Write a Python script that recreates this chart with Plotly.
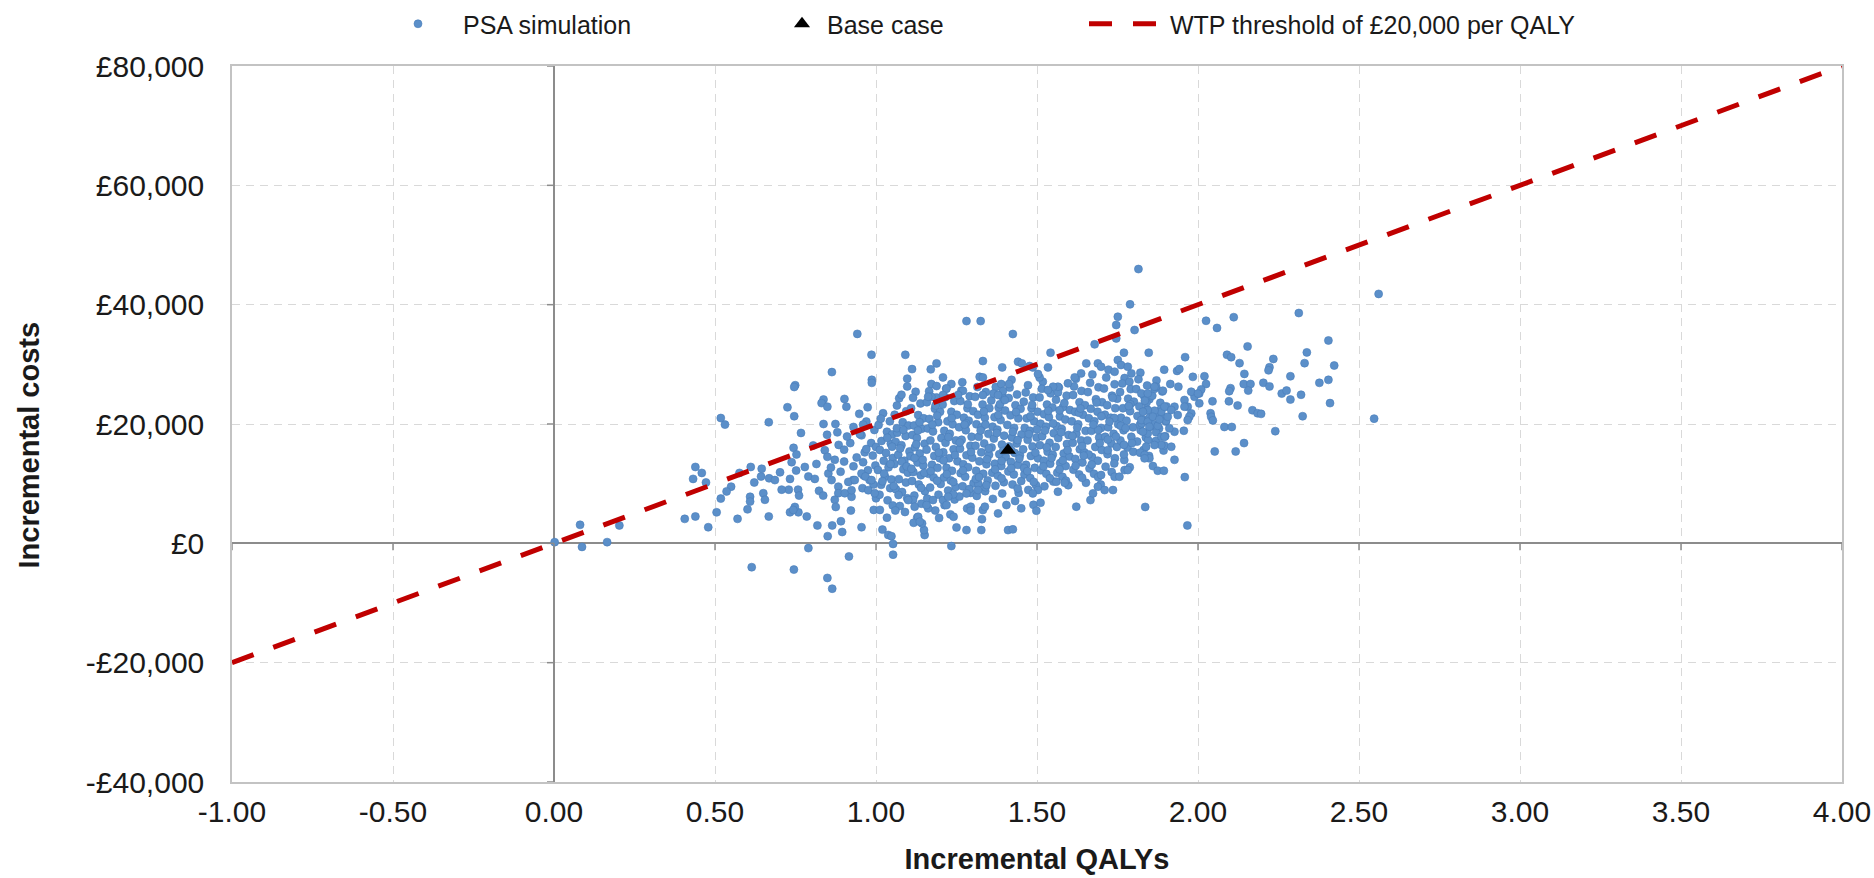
import plotly.graph_objects as go

# ---------------------------------------------------------------
# Cost-effectiveness plane: PSA iterations, base case, WTP line
# ---------------------------------------------------------------

# PSA iterations (incremental QALYs, incremental costs in GBP)
psa_points = [
    # dense core of the cloud
    (0.970, 20400), (0.995, 19000), (0.955, 18100), (0.985, 16800), (1.000, 16150), (0.965, 15250), (0.990, 14700),
    (0.960, 13600), (0.998, 13050), (0.975, 12250), (0.962, 11350), (0.992, 9850), (0.958, 9250), (1.000, 7550),
    (0.980, 10600),
    (1.022, 21800), (1.043, 20450), (1.008, 19850), (1.034, 18700), (1.050, 18250), (1.017, 17150), (1.046, 16700),
    (1.012, 15650), (1.031, 15150), (1.052, 14300), (1.024, 13850), (1.039, 12750), (1.006, 12300), (1.028, 11150),
    (1.048, 10700), (1.016, 9800), (1.044, 9250), (1.011, 8150), (1.036, 7200), (1.052, 6350), (1.020, 10400),
    (1.072, 24300), (1.094, 22150), (1.058, 21550), (1.083, 20300), (1.101, 19750), (1.066, 18550), (1.092, 18000),
    (1.061, 17000), (1.079, 16450), (1.104, 15400), (1.069, 14850), (1.088, 13850), (1.057, 13300), (1.085, 12400),
    (1.099, 11850), (1.071, 10750), (1.093, 10200), (1.062, 9050), (1.081, 8600), (1.097, 7550), (1.074, 6250),
    (1.090, 5250), (1.065, 19300),
    (1.123, 25400), (1.138, 23450), (1.109, 22650), (1.131, 21500), (1.148, 20950), (1.118, 19750), (1.142, 19200),
    (1.113, 18150), (1.127, 17650), (1.151, 16700), (1.121, 16100), (1.136, 15050), (1.107, 14600), (1.129, 13550),
    (1.147, 13050), (1.116, 11950), (1.139, 11400), (1.112, 10450), (1.133, 9850), (1.152, 8750), (1.119, 8000),
    (1.141, 6650), (1.128, 4350), (1.117, 3450),
    (1.172, 26700), (1.188, 24450), (1.158, 23650), (1.183, 22550), (1.199, 22050), (1.166, 20850), (1.193, 20300),
    (1.161, 19250), (1.177, 18750), (1.203, 17650), (1.169, 17250), (1.186, 16150), (1.157, 15700), (1.181, 14650),
    (1.198, 14250), (1.174, 13150), (1.191, 12650), (1.163, 11650), (1.179, 11050), (1.201, 9950), (1.168, 9350),
    (1.194, 8150), (1.159, 7500), (1.184, 5500), (1.196, 4250),
    (1.218, 25900), (1.243, 23850), (1.207, 23250), (1.234, 22050), (1.251, 21550), (1.222, 20450), (1.238, 19950),
    (1.212, 18850), (1.229, 18350), (1.248, 17250), (1.216, 16850), (1.241, 15750), (1.209, 15250), (1.227, 14250),
    (1.253, 13750), (1.219, 12650), (1.236, 12150), (1.211, 11050), (1.232, 10550), (1.247, 9450), (1.224, 8850),
    (1.244, 7350), (1.213, 6400), (1.231, 4850),
    (1.268, 27000), (1.291, 24650), (1.262, 23850), (1.284, 22650), (1.302, 22150), (1.273, 21050), (1.288, 20550),
    (1.258, 19450), (1.279, 18950), (1.297, 17850), (1.266, 17350), (1.293, 16350), (1.261, 15850), (1.281, 14750),
    (1.299, 14350), (1.271, 13250), (1.286, 12750), (1.263, 11750), (1.277, 11150), (1.303, 10050), (1.269, 9550),
    (1.294, 8450), (1.259, 7850), (1.283, 5850),
    (1.322, 27900), (1.341, 25350), (1.308, 24550), (1.331, 23250), (1.352, 22650), (1.317, 21550), (1.338, 21050),
    (1.312, 19950), (1.328, 19450), (1.349, 18350), (1.319, 17850), (1.336, 16750), (1.309, 16350), (1.327, 15250),
    (1.351, 14850), (1.321, 13750), (1.343, 13250), (1.311, 12150), (1.333, 11650), (1.347, 10550), (1.318, 9950),
    (1.339, 8750), (1.313, 7950), (1.329, 4050),
    (1.372, 26200), (1.393, 24550), (1.358, 23950), (1.381, 22750), (1.401, 22250), (1.368, 21150), (1.387, 20650),
    (1.362, 19550), (1.377, 19050), (1.398, 18050), (1.366, 17550), (1.391, 16550), (1.359, 16050), (1.383, 14950),
    (1.403, 14450), (1.369, 13350), (1.389, 12950), (1.361, 11850), (1.378, 11350), (1.397, 10250), (1.371, 9650),
    (1.392, 8350), (1.363, 7450),
    (1.421, 27400), (1.438, 24950), (1.412, 24350), (1.433, 23150), (1.449, 22550), (1.418, 21450), (1.442, 20950),
    (1.408, 19850), (1.429, 19350), (1.452, 18250), (1.422, 17750), (1.437, 16750), (1.413, 16250), (1.431, 15150),
    (1.447, 14750), (1.419, 13650), (1.441, 13150), (1.411, 12050), (1.428, 11550), (1.451, 10450), (1.424, 9850),
    (1.443, 8450), (1.432, 7100),
    (1.472, 26500), (1.488, 24450), (1.459, 23750), (1.483, 22650), (1.502, 22050), (1.468, 20950), (1.491, 20450),
    (1.462, 19350), (1.478, 18850), (1.499, 17750), (1.471, 17350), (1.486, 16250), (1.457, 15750), (1.481, 14650),
    (1.503, 14250), (1.466, 13150), (1.493, 12650), (1.461, 11550), (1.479, 10950), (1.497, 9750), (1.473, 8950),
    (1.489, 6450),
    (1.518, 27100), (1.542, 25150), (1.508, 24450), (1.531, 23250), (1.548, 22750), (1.522, 21650), (1.537, 21150),
    (1.511, 20050), (1.528, 19550), (1.552, 18450), (1.516, 17950), (1.539, 16850), (1.509, 16450), (1.533, 15350),
    (1.549, 14850), (1.521, 13850), (1.541, 13350), (1.512, 12250), (1.529, 11650), (1.551, 10350), (1.523, 9550),
    (1.568, 26100), (1.592, 24750), (1.559, 24050), (1.581, 22850), (1.602, 22350), (1.571, 21250), (1.588, 20750),
    (1.561, 19650), (1.577, 19150), (1.598, 18150), (1.566, 17650), (1.593, 16650), (1.558, 16150), (1.583, 15050),
    (1.601, 14550), (1.572, 13450), (1.589, 12950), (1.563, 11850), (1.579, 11150), (1.597, 9750),
    (1.621, 27600), (1.638, 25550), (1.612, 24850), (1.632, 23650), (1.649, 23150), (1.618, 22050), (1.643, 21550),
    (1.608, 20450), (1.628, 19950), (1.651, 18850), (1.622, 18350), (1.637, 17250), (1.611, 16850), (1.633, 15750),
    (1.647, 15250), (1.619, 14150), (1.641, 13550), (1.613, 12350), (1.631, 11550), (1.652, 10150),
    (1.672, 28300), (1.691, 26150), (1.658, 25350), (1.683, 24150), (1.702, 23650), (1.667, 22550), (1.688, 22050),
    (1.661, 20950), (1.678, 20450), (1.699, 19350), (1.669, 18850), (1.693, 17750), (1.657, 17250), (1.681, 16150),
    (1.701, 15650), (1.671, 14450), (1.689, 13850), (1.663, 12550), (1.677, 11650), (1.698, 9850),
    (1.722, 29100), (1.741, 26650), (1.708, 25950), (1.733, 24750), (1.749, 24250), (1.718, 23150), (1.743, 22650),
    (1.711, 21550), (1.729, 21050), (1.752, 19950), (1.721, 19450), (1.738, 18350), (1.712, 17850), (1.731, 16750),
    (1.748, 16150), (1.719, 14950), (1.742, 14250), (1.713, 12850), (1.732, 11950),
    (1.772, 27700), (1.791, 25850), (1.758, 25350), (1.783, 24250), (1.801, 23750), (1.767, 22650), (1.789, 22150),
    (1.761, 21050), (1.778, 20550), (1.798, 19450), (1.769, 18950), (1.793, 17850), (1.759, 17250), (1.781, 16050),
    (1.799, 15350), (1.771, 13950), (1.788, 12750),
    (1.821, 28600), (1.842, 26450), (1.808, 25850), (1.833, 24650), (1.849, 24150), (1.818, 22950), (1.841, 22450),
    (1.812, 21350), (1.829, 20750), (1.852, 19550), (1.822, 18950), (1.838, 17750), (1.811, 17050), (1.831, 15650),
    (1.848, 14650),
    (1.871, 27300), (1.889, 25450), (1.858, 24750), (1.883, 23550), (1.902, 22950), (1.868, 21750), (1.891, 21150),
    (1.861, 19950), (1.879, 19250), (1.898, 17950), (1.869, 17150), (1.893, 15550),
    (1.05, 16200), (1.08, 13700), (1.13, 18900), (1.15, 11800), (1.19, 21400), (1.21, 13900), (1.26, 16900),
    (1.28, 20100), (1.31, 10800), (1.35, 15900), (1.38, 21500), (1.39, 13800), (1.44, 17300), (1.46, 12600),
    (1.48, 21300), (1.53, 16100), (1.55, 20100), (1.58, 13900), (1.61, 18000), (1.63, 21900), (1.66, 14900),
    (1.69, 19000), (1.72, 17400), (1.74, 21000), (1.77, 16500), (1.79, 23300), (1.82, 19900), (1.84, 23600),
    (1.87, 18600), (1.90, 20400), (1.12, 14300), (1.24, 10300), (1.34, 19900), (1.42, 15600), (1.50, 19100),
    (1.57, 22300), (1.64, 16300), (1.70, 21300), (1.76, 19700), (1.85, 21100),
    (1.015, 20900), (1.035, 17700), (1.045, 13300), (1.025, 11700), (1.055, 9600),
    (1.065, 23100), (1.085, 19000), (1.075, 15900), (1.095, 12900), (1.070, 8100),
    (1.115, 24400), (1.135, 20300), (1.125, 16600), (1.145, 14000), (1.110, 12500), (1.140, 9300),
    (1.165, 25500), (1.185, 23100), (1.175, 19900), (1.195, 15200), (1.170, 12100), (1.190, 10500),
    (1.215, 24500), (1.235, 21000), (1.225, 17800), (1.245, 14800), (1.220, 11600), (1.240, 8200),
    (1.265, 25600), (1.285, 23300), (1.275, 19900), (1.295, 15300), (1.270, 12200), (1.290, 9100),
    (1.315, 26200), (1.335, 22100), (1.325, 18900), (1.345, 14100), (1.320, 11100), (1.340, 9400),
    (1.365, 25100), (1.385, 23300), (1.375, 18500), (1.395, 15500), (1.370, 12400), (1.390, 10900),
    (1.415, 26100), (1.435, 22000), (1.425, 18700), (1.445, 14200), (1.420, 12600), (1.440, 9200),
    (1.465, 25300), (1.485, 23200), (1.475, 18300), (1.495, 15200), (1.470, 12100), (1.490, 10300),
    (1.515, 25900), (1.535, 22200), (1.525, 18900), (1.545, 14300), (1.520, 12900), (1.540, 10900),
    (1.565, 25300), (1.585, 23500), (1.575, 18600), (1.595, 15600), (1.570, 12400), (1.590, 10500),
    (1.615, 26300), (1.635, 22600), (1.625, 19400), (1.645, 14700), (1.620, 13000), (1.640, 11000),
    (1.665, 26900), (1.685, 23600), (1.675, 19900), (1.695, 16800), (1.670, 13200), (1.690, 11100),
    (1.715, 27800), (1.735, 24400), (1.725, 20400), (1.745, 17900), (1.720, 15600), (1.740, 13400),
    (1.765, 26800), (1.785, 23000), (1.775, 19300), (1.795, 16800), (1.770, 14900),
    (1.815, 27500), (1.835, 23900), (1.825, 20100), (1.845, 17300), (1.820, 15200),
    (1.865, 25900), (1.885, 22500), (1.875, 19700), (1.895, 16400),
    # right-hand shoulder of the cloud
    (1.870, 26250), (1.891, 25580), (1.914, 26700), (1.939, 26250), (1.958, 24020), (1.968, 22900), (1.979, 21780),
    (1.973, 21220), (1.968, 20660), (1.956, 18870), (1.927, 18710), (1.911, 19270), (1.901, 20550), (1.886, 22060),
    (1.865, 22230), (1.844, 22340), (1.829, 22060), (1.824, 20660), (1.844, 20380), (1.860, 21220), (1.880, 20770),
    (1.906, 21220), (1.927, 22900), (1.896, 22900), (1.844, 18430), (1.829, 18710), (1.849, 19550), (1.886, 17870),
    (1.896, 17870), (1.917, 16190), (1.886, 16470), (1.865, 16470), (1.839, 16190), (1.834, 14800), (1.849, 14240),
    (1.834, 14240), (1.860, 12950), (1.875, 12170), (1.894, 12170), (2.004, 25130), (2.004, 23460), (1.989, 24570),
    (1.979, 25410), (1.958, 22900), (1.937, 21500), (1.917, 22340),
    # left flank and lower tail
    (0.942, 35100), (0.986, 31600), (1.091, 31600), (1.112, 29200), (1.097, 27600), (1.097, 26300), (1.079, 24900),
    (0.987, 27400), (0.987, 26900), (0.863, 28700), (0.749, 26500), (0.746, 26200), (0.725, 22800), (0.746, 21300),
    (0.837, 24100), (0.831, 23500), (0.849, 22900), (0.902, 24200), (0.908, 22900), (0.948, 21700), (0.974, 22800),
    (0.518, 21000), (0.531, 19900), (0.667, 20300), (0.767, 18500), (0.837, 20000), (0.874, 20000), (0.805, 16400),
    (0.848, 18200), (0.841, 15600), (0.849, 14500), (0.884, 16500), (0.901, 15700), (0.872, 14000), (0.901, 13700),
    (0.744, 16000), (0.753, 14900), (0.738, 13600), (0.779, 12800), (0.752, 12200), (0.439, 12800), (0.459, 11800),
    (0.432, 10800), (0.472, 10200), (0.611, 12800), (0.576, 11800), (0.645, 12500), (0.643, 11200), (0.668, 10900),
    (0.686, 10600), (0.702, 11900), (0.733, 10800), (0.729, 9000), (0.707, 9000), (0.758, 9000), (0.761, 8000),
    (0.790, 11200), (0.810, 10800), (0.823, 8800), (0.836, 8000), (0.852, 11700), (0.862, 10600), (0.883, 9500),
    (0.883, 8400), (0.872, 7300), (0.875, 6100), (0.903, 8400), (0.924, 7800), (0.929, 10600), (0.924, 8900),
    (0.550, 9500), (0.536, 8700), (0.518, 7500), (0.622, 10200), (0.609, 7800), (0.609, 7000), (0.601, 5700),
    (0.650, 8400), (0.655, 7300), (0.505, 5200), (0.406, 4100), (0.439, 4500), (0.479, 2700), (0.570, 4100),
    (0.667, 4500), (0.733, 5200), (0.759, 5200), (0.748, 6100), (0.743, 5600), (0.785, 4500), (0.818, 3000),
    (0.864, 3000), (0.850, 1200), (0.891, 3700), (0.895, 1900), (0.922, 5500), (0.955, 2700), (0.790, -800),
    (0.614, -4000), (0.745, -4400), (0.849, -5800), (0.864, -7600), (0.916, -2200), (0.993, 5600), (1.012, 5600),
    (1.020, 2300), (1.038, 1400), (1.048, 1200), (1.034, 4300), (1.060, 5500), (1.053, -100), (1.053, -1900),
    (0.914, 10300), (0.934, 10600), (0.955, 11700), (0.967, 11200), (0.986, 10600), (0.976, 8900), (0.996, 8400),
    (0.815, 13300), (0.860, 12700), (0.890, 12000), (0.930, 12900), (0.940, 14400), (0.920, 16800), (0.950, 18300),
    (0.930, 19500), (0.910, 17900), (0.880, 18600), (0.960, 19900), (0.970, 15800),
    # near the origin
    (0.002, 200), (0.081, 3100), (0.087, -600), (0.165, 200), (0.203, 3000),
    # upper edge of the main cloud
    (1.815, 45970), (1.789, 40050), (1.751, 37980), (1.746, 36590), (1.803, 35750), (1.746, 34350), (1.679, 33350),
    (1.542, 31950), (1.847, 31950), (1.770, 31950), (1.653, 30160), (1.689, 30160), (1.699, 29600), (1.751, 30720),
    (1.761, 29880), (1.782, 29600), (1.793, 28480), (1.741, 28760), (1.787, 27090), (1.637, 28480), (1.617, 27810),
    (1.596, 26810), (1.565, 26250), (1.550, 26250), (1.534, 25690), (1.508, 27810), (1.503, 28370), (1.477, 29710),
    (1.534, 29490), (1.487, 29490), (1.441, 30440), (1.453, 30160), (1.332, 30550), (1.332, 27810), (1.332, 24850),
    (1.392, 29490), (1.413, 26700), (1.389, 26700), (1.394, 25520), (1.379, 24850), (1.400, 24020), (1.188, 30160),
    (1.170, 29160), (1.208, 27810), (1.234, 26700), (1.219, 25970), (1.188, 26360), (1.208, 24850), (1.270, 25580),
    (1.255, 24850), (1.172, 24570), (1.162, 24570), (1.824, 25130), (1.844, 25130), (1.865, 26250),
    (1.281, 37250), (1.325, 37250), (1.425, 35080),
    # lower edge of the main cloud
    (1.234, -460), (1.281, 2220), (1.327, 2220), (1.250, 2670), (1.241, 4460), (1.294, 6140), (1.294, 5470),
    (1.332, 5580), (1.338, 6140), (1.379, 5020), (1.405, 6420), (1.410, 2220), (1.425, 2340), (1.451, 5860),
    (1.498, 5470), (1.511, 6810), (1.622, 6140), (1.666, 7250), (1.674, 8370), (1.689, 9490), (1.710, 8930),
    (1.736, 8930), (1.699, 11440), (1.741, 11170), (1.756, 11170), (1.772, 12280), (1.782, 12280), (1.151, 1390),
    (1.149, 2220), (1.143, 3340), (1.131, 4460), (1.136, 3620), (1.115, 7250), (1.100, 7250), (1.120, 6140),
    (1.162, 5860), (1.157, 6420), (1.177, 7250), (1.208, 7250), (1.219, 6420), (1.224, 7810), (1.281, 8370),
    (1.317, 8930), (1.343, 9770), (1.565, 8650), (1.560, 10330), (1.586, 10160), (1.503, 8930), (1.487, 8370),
    # high-gain tail
    (2.561, 41800), (2.313, 38600), (2.025, 37300), (2.059, 36100), (2.111, 37900), (2.405, 34000), (2.154, 33000),
    (2.090, 31600), (2.103, 31200), (2.338, 32000), (2.331, 30200), (2.234, 30900), (2.129, 30200), (2.423, 29800),
    (2.222, 29500), (2.219, 29000), (1.960, 31200), (1.895, 29100), (1.935, 28900), (1.942, 29200), (2.144, 28400),
    (2.287, 28000), (2.020, 28000), (1.984, 27900), (2.142, 26700), (2.163, 26700), (2.156, 25600), (2.203, 26900),
    (2.222, 26300), (2.101, 26000), (2.097, 25500), (2.025, 26700), (2.010, 25800), (2.000, 25100), (2.260, 25100),
    (2.275, 25600), (2.287, 24100), (2.320, 24900), (2.377, 26900), (2.405, 27400), (2.410, 23500), (2.325, 21300),
    (2.547, 20900), (2.096, 23800), (2.123, 23100), (2.045, 23800), (2.169, 22300), (2.185, 21800), (2.196, 21700),
    (2.039, 21800), (2.041, 21200), (2.046, 20600), (2.082, 19500), (2.105, 19500), (2.240, 18800), (2.143, 16800),
    (2.117, 15400), (2.052, 15400), (1.959, 11100), (1.967, 3000), (1.836, 6100), (1.927, 14000),
]
psa_qalys = [p[0] for p in psa_points]
psa_costs = [p[1] for p in psa_points]

# Deterministic base-case result
base_qalys = [1.41]
base_costs = [15600]

# Willingness-to-pay line at GBP 20,000 per QALY
wtp_qalys = [-1.0, 4.0]
wtp_costs = [-20000, 80000]

# Axis ticks
x_tickvals = [-1.0, -0.5, 0.0, 0.5, 1.0, 1.5, 2.0, 2.5, 3.0, 3.5, 4.0]
x_ticktext = ["-1.00", "-0.50", "0.00", "0.50", "1.00", "1.50", "2.00", "2.50", "3.00", "3.50", "4.00"]
y_tickvals = [-40000, -20000, 0, 20000, 40000, 60000, 80000]
y_ticktext = ["-£40,000", "-£20,000", "£0", "£20,000", "£40,000", "£60,000", "£80,000"]

FONT = "Liberation Sans, Arial, sans-serif"
INK = "#1a1a1a"
W, H = 1874, 878
M_L, M_R, M_T, M_B = 232, 32, 66, 96
PLOT_W = W - M_L - M_R
PLOT_H = H - M_T - M_B

fig = go.Figure()

fig.add_trace(go.Scatter(
    x=psa_qalys, y=psa_costs, mode="markers", name="PSA simulation",
    marker=dict(size=8, color="#5b8fc9", line=dict(width=0.6, color="#4a7dba")),
    legend="legend",
))
fig.add_trace(go.Scatter(
    x=wtp_qalys, y=wtp_costs, mode="lines", name="WTP threshold of £20,000 per QALY",
    line=dict(color="#c00000", width=5, dash="23px,21px"),
    legend="legend3",
))
fig.add_trace(go.Scatter(
    x=base_qalys, y=base_costs, mode="markers", name="Base case",
    marker=dict(size=14, symbol="triangle-up", color="#000000"),
    legend="legend2",
))

# small cross-ticks where the gridlines meet the zero axes
shapes = []
for yv in y_tickvals:
    shapes.append(dict(type="line", xref="x", yref="y", xsizemode="pixel", xanchor=0,
                       x0=-7, x1=0, y0=yv, y1=yv, line=dict(color="#8c8c8c", width=1.5)))
for xv in x_tickvals:
    shapes.append(dict(type="line", xref="x", yref="y", ysizemode="pixel", yanchor=0,
                       y0=-7, y1=0, x0=xv, x1=xv, line=dict(color="#8c8c8c", width=1.5)))

leg_common = dict(orientation="h", xref="container", yref="container", yanchor="middle",
                  xanchor="left", bgcolor="rgba(0,0,0,0)", borderwidth=0,
                  font=dict(family=FONT, size=25, color=INK))

axis_common = dict(
    showgrid=True, gridcolor="#d9d9d9", gridwidth=1, griddash="8px,6px",
    zeroline=True, zerolinecolor="#8c8c8c", zerolinewidth=1.5,
    showline=True, linecolor="#c3c3c3", linewidth=1.5, mirror=True,
    ticks="", tickfont=dict(family=FONT, size=30, color=INK),
)

fig.update_layout(
    width=W, height=H,
    margin=dict(l=M_L, r=M_R, t=M_T, b=M_B, autoexpand=False),
    paper_bgcolor="white", plot_bgcolor="white",
    showlegend=True,
    legend=dict(**leg_common, x=373 / W, y=1 - 24 / H, itemwidth=80),
    legend2=dict(**leg_common, x=777 / W, y=1 - 24 / H, itemwidth=40),
    legend3=dict(**leg_common, x=1084 / W, y=1 - 24 / H, itemwidth=76),
    xaxis=dict(**axis_common, range=[-1, 4], tickvals=x_tickvals, ticktext=x_ticktext,
               ticklabelstandoff=2,
               title=dict(text="<b>Incremental QALYs</b>", standoff=22,
                          font=dict(family=FONT, size=29, color=INK))),
    yaxis=dict(**axis_common, range=[-40000, 80000], tickvals=y_tickvals, ticktext=y_ticktext,
               ticklabelstandoff=20),
    shapes=shapes,
    annotations=[dict(
        text="<b>Incremental costs</b>", textangle=-90, showarrow=False,
        xref="paper", yref="paper", xanchor="center", yanchor="middle",
        x=(28.5 - M_L) / PLOT_W, y=(H - M_B - 445) / PLOT_H,
        font=dict(family=FONT, size=29, color=INK),
    )],
)

fig.write_html("out.html")
